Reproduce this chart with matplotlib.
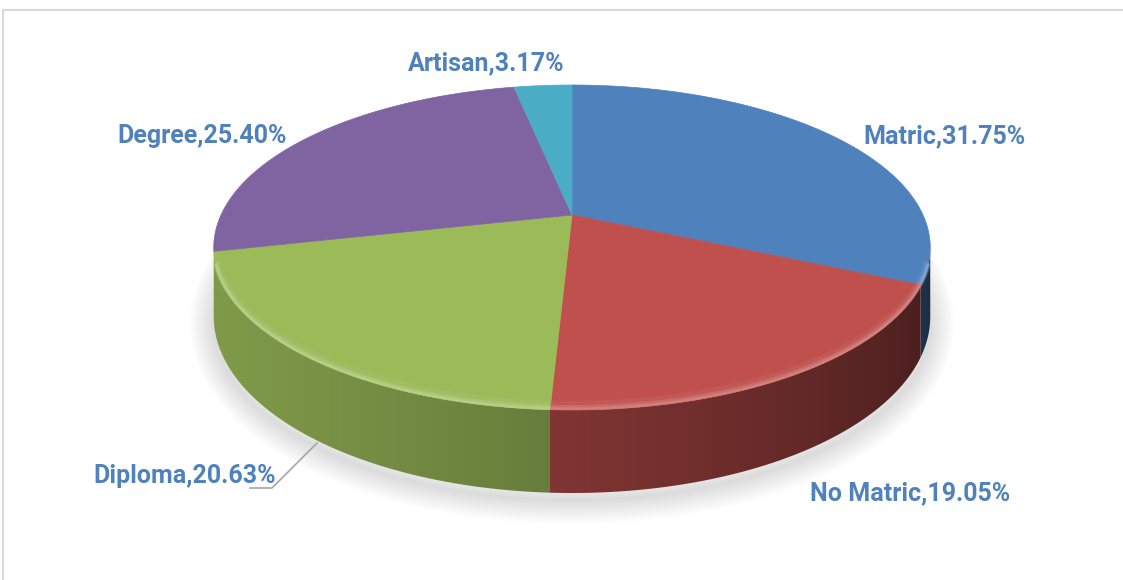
import numpy as np
import matplotlib.pyplot as plt
from matplotlib.patches import Polygon
from matplotlib.colors import to_rgb

# education level shares (%)
labels = ['Matric', 'No Matric', 'Diploma', 'Degree', 'Artisan']
shares = [31.75, 19.05, 20.63, 25.40, 3.17]
colors = ['#4F81BD', '#C0504D', '#9BBB59', '#8064A2', '#4BACC6']
label_xy = [(863, 136), (810, 493), (93, 476), (117, 136), (408, 63)]

# perspective settings for the tilted disc
X0, Y0 = 572, 215
A, B = 351, 156
K = 0.2
DEPTH = 66.4


def proj(phi, h=0.0):
    t = np.radians(phi)
    x = np.sin(t)
    z = -np.cos(t)
    w = 1 - K * z
    return X0 + A * x / w, Y0 + (B * z + DEPTH * h) / w


def shade(c, f):
    r, g, b = to_rgb(c)
    return np.clip(np.array([r, g, b]) * np.asarray(f)[..., None], 0, 1)


def lighten(c, a):
    r, g, b = to_rgb(c)
    return (r + (1 - r) * a, g + (1 - g) * a, b + (1 - b) * a)


def side_light(phi):
    return 0.57 + 0.25 * np.cos(np.radians(phi - 250))


fig = plt.figure(figsize=(11.23, 5.8), dpi=100)
ax = fig.add_axes([0, 0, 1, 1])
ax.set_xlim(0, 1123)
ax.set_ylim(580, 0)
ax.axis('off')

# chart frame
ax.plot([3, 3, 1123], [580, 10, 10], color='#d9d9d9', lw=1.5, zorder=0)

total = sum(shares)
edges = np.concatenate([[0], np.cumsum(shares) / total * 360])

# soft shadow under the disc
ph = np.linspace(0, 360, 361)
sx, sy = proj(ph, 1.0)
for lw in range(34, 0, -3):
    ax.plot(sx, sy + 7, color='#808080', lw=lw, alpha=0.025,
            solid_capstyle='round', zorder=1)

# visible part of the wall lies between the two silhouette angles
lo = np.degrees(np.arccos(-K))
hi = 360 - lo
look_phi = np.linspace(lo, hi, 3000)
look_x = proj(look_phi)[0]

for i, c in enumerate(colors):
    a0, a1 = max(edges[i], lo), min(edges[i + 1], hi)
    if a1 <= a0:
        continue
    p = np.linspace(a0, a1, 200)
    tx, ty = proj(p)
    bx, by = proj(p[::-1], 1.0)
    pts = list(zip(tx, ty)) + list(zip(bx, by))
    wall = Polygon(pts, facecolor='none', edgecolor='none', zorder=2)
    ax.add_patch(wall)
    xmin, xmax = min(tx.min(), bx.min()), max(tx.max(), bx.max())
    ymin, ymax = min(ty.min(), by.min()), max(ty.max(), by.max())
    cols = np.arange(np.floor(xmin), np.ceil(xmax) + 1)
    phi_col = np.interp(cols, look_x[::-1], look_phi[::-1])
    rgb = shade(c, side_light(phi_col))
    img = np.stack([rgb, rgb])
    im = ax.imshow(img, extent=(cols[0], cols[-1], ymax, ymin), aspect='auto',
                   interpolation='bilinear', zorder=2)
    im.set_clip_path(wall)

# top face
for i, c in enumerate(colors):
    p = np.linspace(edges[i], edges[i + 1], 200)
    px, py = proj(p)
    pts = [(X0, Y0)] + list(zip(px, py))
    ax.add_patch(Polygon(pts, facecolor=c, edgecolor=c, lw=0.5, zorder=3))

# bevel highlight along the front rim, kept inside the silhouette
for i, c in enumerate(colors):
    a0, a1 = max(edges[i], lo + 6), min(edges[i + 1], hi - 6)
    if a1 <= a0:
        continue
    p = np.linspace(a0, a1, 100)
    for off, lw, al in [(-0.06, 6, 0.15), (-0.03, 3.5, 0.35), (-0.015, 2, 0.6)]:
        px, py = proj(p, off)
        ax.plot(px, py, color=lighten(c, 0.35), lw=lw, alpha=al, zorder=4,
                solid_capstyle='butt')

# leader line for Diploma
ax.plot([250, 272, 317], [488, 488, 443], color='#a6a6a6', lw=1.2, zorder=5)

for (x, y), lab, v in zip(label_xy, labels, shares):
    ax.text(x, y, f'{lab},{v:.2f}%', ha='left', va='center', color='#4F81BD',
            fontsize=18, fontweight='bold', family=['Roboto', 'DejaVu Sans'],
            zorder=6)

fig.savefig('out.png', dpi=100)
